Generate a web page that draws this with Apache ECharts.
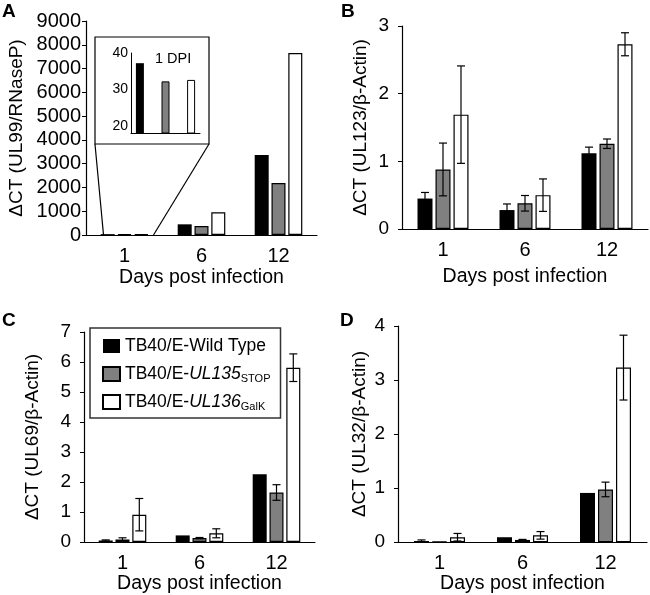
<!DOCTYPE html>
<html style="height: 100%">
<head>
<meta charset="utf-8">
<script src="https://cdn.jsdelivr.net/npm/echarts@6/dist/echarts.min.js"></script>
</head>
<body style="height: 100%; margin: 0; background: #fff">
<div id="container" style="width: 650px; height: 595px"></div>
<script type="text/javascript">
// categories
var days = ['1', '6', '12'];
var strains = ['TB40/E-Wild Type', 'TB40/E-UL135STOP', 'TB40/E-UL136GalK'];

// A: UL99 / RNaseP
var ul99WT = [37, 449, 3364];
var ul99Stop = [32, 378, 2187];
var ul99GalK = [33, 953, 7654];
// inset, 1 DPI
var insetVals = [37.2, 32.2, 32.6];

// B: UL123 / beta-actin
var ul123WT = [0.45, 0.28, 1.12];
var ul123Stop = [0.88, 0.38, 1.26];
var ul123GalK = [1.69, 0.50, 2.73];
var ul123WTErr = [0.09, 0.09, 0.09];
var ul123StopErr = [0.39, 0.115, 0.07];
var ul123GalKErr = [0.72, 0.24, 0.17];

// C: UL69 / beta-actin
var ul69WT = [0.05, 0.22, 2.26];
var ul69Stop = [0.08, 0.13, 1.65];
var ul69GalK = [0.91, 0.29, 5.81];
var ul69WTErr = [0.02, 0, 0];
var ul69StopErr = [0.06, 0.02, 0.26];
var ul69GalKErr = [0.54, 0.15, 0.46];

// D: UL32 / beta-actin
var ul32WT = [0.02, 0.09, 0.91];
var ul32Stop = [0.01, 0.04, 0.975];
var ul32GalK = [0.09, 0.125, 3.23];
var ul32WTErr = [0.02, 0, 0];
var ul32StopErr = [0, 0.01, 0.135];
var ul32GalKErr = [0.07, 0.07, 0.6];

var font = 'Liberation Sans, Arial, sans-serif';
var ink = '#000';
var fills = ['#000000', '#808080', '#ffffff'];

var panels = [
    {grid: {left: 86, top: 21, width: 231, height: 214}, max: 9000, interval: 1000, bw: 14,
     name: '\u0394CT (UL99/RNaseP)', nameGap: 60, labelMargin: 5, xGap: 33, tickSize: 20,
     vals: [ul99WT, ul99Stop, ul99GalK], errs: null},
    {grid: {left: 402, top: 26, width: 246, height: 203}, max: 3, interval: 1, bw: 15,
     name: '\u0394CT (UL123/\u03b2-Actin)', nameGap: 32, labelMargin: 13, xGap: 38, tickSize: 19,
     vals: [ul123WT, ul123Stop, ul123GalK], errs: [ul123WTErr, ul123StopErr, ul123GalKErr]},
    {grid: {left: 84, top: 332, width: 231, height: 210}, max: 7, interval: 1, bw: 14,
     name: '\u0394CT (UL69/\u03b2-Actin)', nameGap: 42, labelMargin: 13, xGap: 27, tickSize: 19,
     vals: [ul69WT, ul69Stop, ul69GalK], errs: [ul69WTErr, ul69StopErr, ul69GalKErr]},
    {grid: {left: 398, top: 326, width: 249, height: 217}, max: 4, interval: 1, bw: 15,
     name: '\u0394CT (UL32/\u03b2-Actin)', nameGap: 29, labelMargin: 13, xGap: 26, tickSize: 19,
     vals: [ul32WT, ul32Stop, ul32GalK], errs: [ul32WTErr, ul32StopErr, ul32GalKErr]}
];

var grids = [], xAxes = [], yAxes = [], series = [];

panels.forEach(function (p, pi) {
    grids.push(p.grid);
    xAxes.push({
        type: 'category', gridIndex: pi, data: days,
        name: 'Days post infection', nameLocation: 'middle', nameGap: p.xGap,
        nameTextStyle: {fontFamily: font, fontSize: 19.5, color: ink},
        axisLine: {lineStyle: {color: '#000', width: 1.2}},
        axisTick: {show: false},
        axisLabel: {fontFamily: font, fontSize: 20, color: ink, margin: 11}
    });
    yAxes.push({
        type: 'value', gridIndex: pi, min: 0, max: p.max, interval: p.interval,
        name: p.name, nameLocation: 'middle', nameRotate: 90, nameGap: p.nameGap,
        nameTextStyle: {fontFamily: font, fontSize: 19, color: ink},
        axisLine: {show: true, lineStyle: {color: '#000', width: 1.2}},
        axisTick: {show: true, length: 4, lineStyle: {color: '#000'}},
        splitLine: {show: false},
        axisLabel: {fontFamily: font, fontSize: p.tickSize, color: ink, margin: p.labelMargin,
            formatter: function (v) { return String(v); }}
    });
    p.vals.forEach(function (v, si) {
        series.push({
            type: 'bar', name: strains[si], xAxisIndex: pi, yAxisIndex: pi,
            data: v, barWidth: p.bw, barGap: '20%',
            itemStyle: {color: fills[si], borderColor: '#000', borderWidth: si === 0 ? 0 : 1.2},
            emphasis: {disabled: true}
        });
    });
    if (p.errs) {
        var step = p.bw * 1.2;
        p.errs.forEach(function (e, si) {
            var d = days.map(function (c, ci) { return [ci, p.vals[si][ci], e[ci]]; });
            series.push({
                type: 'custom', xAxisIndex: pi, yAxisIndex: pi, z: 5, silent: true,
                data: d,
                renderItem: function (params, api) {
                    var err = api.value(2);
                    if (!err) return null;
                    var m = api.value(1);
                    var off = (si - 1) * step;
                    var hi = api.coord([api.value(0), m + err]);
                    var lo = api.coord([api.value(0), Math.max(0, m - err)]);
                    var x = hi[0] + off, w = 4;
                    var st = {stroke: '#000', lineWidth: 1.2};
                    return {type: 'group', children: [
                        {type: 'line', shape: {x1: x, y1: hi[1], x2: x, y2: lo[1]}, style: st},
                        {type: 'line', shape: {x1: x - w, y1: hi[1], x2: x + w, y2: hi[1]}, style: st},
                        {type: 'line', shape: {x1: x - w, y1: lo[1], x2: x + w, y2: lo[1]}, style: st}
                    ]};
                }
            });
        });
    }
});

// inset (1 DPI)
grids.push({left: 131, top: 53, width: 69, height: 80});
xAxes.push({
    type: 'category', gridIndex: 4, data: ['1'], z: 4,
    axisLine: {lineStyle: {color: '#000', width: 1}},
    axisTick: {show: false}, axisLabel: {show: false}
});
yAxes.push({
    type: 'value', gridIndex: 4, min: 18, max: 40, interval: 2, z: 4,
    axisLine: {show: true, lineStyle: {color: '#000', width: 1}},
    axisTick: {show: false}, splitLine: {show: false},
    axisLabel: {fontFamily: font, fontSize: 14, color: ink, margin: 3,
        formatter: function (v) { return v % 10 === 0 ? v : ''; }}
});
insetVals.forEach(function (v, si) {
    series.push({
        type: 'bar', name: strains[si], xAxisIndex: 4, yAxisIndex: 4, z: 4,
        data: [v], barWidth: 8, barGap: '220%',
        itemStyle: {color: fills[si], borderColor: '#000', borderWidth: si === 0 ? 0 : 1},
        emphasis: {disabled: true}
    });
});

var letter = function (t, x, y) {
    return {type: 'text', left: x, top: y,
        style: {text: t, fontFamily: font, fontSize: 19, fontWeight: 'bold', fill: '#000'}};
};

var dom = document.getElementById('container');
var myChart = echarts.init(dom, null, {renderer: 'canvas'});
var option = {
    animation: false,
    backgroundColor: '#fff',
    grid: grids,
    xAxis: xAxes,
    yAxis: yAxes,
    series: series,
    legend: {
        data: strains, orient: 'vertical', left: 90, top: 328,
        padding: [8, 10, 6, 12], itemGap: 8, itemWidth: 17, itemHeight: 14,
        borderColor: '#333', borderWidth: 1.5, selectedMode: false,
        icon: 'rect',
        formatter: function (n) {
            if (n === strains[1]) return 'TB40/E-{i|UL135}{s|STOP}';
            if (n === strains[2]) return 'TB40/E-{i|UL136}{s|GalK}';
            return n;
        },
        textStyle: {
            fontFamily: font, fontSize: 17.5, color: ink, lineHeight: 20,
            rich: {
                i: {fontFamily: font, fontSize: 17.5, fontStyle: 'italic', color: ink, lineHeight: 20},
                s: {fontFamily: font, fontSize: 11, color: ink, lineHeight: 20, verticalAlign: 'bottom'}
            }
        }
    },
    graphic: [
        letter('A', 2, 2), letter('B', 341, 2), letter('C', 2, 311), letter('D', 340, 311),
        {type: 'rect', z: 1, shape: {x: 95, y: 37, width: 114, height: 107},
         style: {fill: '#fff', stroke: '#000', lineWidth: 1.2}},
        {type: 'text', z: 5, left: 155, top: 51,
         style: {text: '1 DPI', fontFamily: font, fontSize: 14.5, fill: ink}}
    ]
};
myChart.setOption(option);

// connector lines from the inset box down to the day-1 bars of panel A
var base = myChart.convertToPixel({gridIndex: 0}, [days[0], 0]);
option.graphic.push(
    {type: 'line', z: 1, shape: {x1: 95, y1: 144, x2: base[0] - 21, y2: base[1]}, style: {stroke: '#000', lineWidth: 1.2}},
    {type: 'line', z: 1, shape: {x1: 209, y1: 144, x2: base[0] + 29, y2: base[1]}, style: {stroke: '#000', lineWidth: 1.2}}
);
myChart.setOption({graphic: option.graphic});
</script>
</body>
</html>
